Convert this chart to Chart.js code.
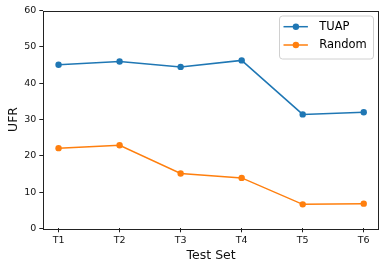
<!DOCTYPE html>
<html>
<head>
<meta charset="utf-8">
<script src="https://cdn.jsdelivr.net/npm/chart.js@4/dist/chart.umd.min.js"></script>
<style>
html,body{margin:0;padding:0;background:#fff;}
#wrap{width:385px;height:269px;position:relative;}
</style>
</head>
<body>
<div id="wrap"><canvas id="c" width="385" height="269"></canvas></div>
<script>
const categories = ["T1", "T2", "T3", "T4", "T5", "T6"];
const tuapValues = [45.1, 46.0, 44.5, 46.3, 31.4, 32.0];
const randomValues = [22.1, 22.9, 15.1, 13.9, 6.6, 6.8];
const yTicks = [0, 10, 20, 30, 40, 50, 60];
const seriesNames = ["TUAP", "Random"];
const seriesColors = ["#1f77b4", "#ff7f0e"];

const FONT = "'DejaVu Sans', sans-serif";

const toPoints = arr => arr.map((v, i) => ({x: i, y: v}));

const framePlugin = {
  id: 'frame',
  afterDraw(chart) {
    const {ctx, chartArea: a} = chart;
    ctx.save();
    ctx.strokeStyle = '#222';
    ctx.lineWidth = 1;
    ctx.strokeRect(Math.round(a.left) + 0.5, Math.round(a.top) + 0.5,
                   Math.round(a.right - a.left) - 1, Math.round(a.bottom - a.top));
    ctx.restore();
  }
};

const legendPlugin = {
  id: 'mplLegend',
  afterDraw(chart) {
    const ctx = chart.ctx;
    const a = chart.chartArea;
    const bx = a.right - 99.5, by = a.top + 5.3, bw = 94, bh = 43;
    ctx.save();
    ctx.beginPath();
    const r = 3;
    ctx.moveTo(bx + r, by);
    ctx.lineTo(bx + bw - r, by);
    ctx.quadraticCurveTo(bx + bw, by, bx + bw, by + r);
    ctx.lineTo(bx + bw, by + bh - r);
    ctx.quadraticCurveTo(bx + bw, by + bh, bx + bw - r, by + bh);
    ctx.lineTo(bx + r, by + bh);
    ctx.quadraticCurveTo(bx, by + bh, bx, by + bh - r);
    ctx.lineTo(bx, by + r);
    ctx.quadraticCurveTo(bx, by, bx + r, by);
    ctx.closePath();
    ctx.fillStyle = 'rgba(255,255,255,0.8)';
    ctx.fill();
    ctx.strokeStyle = '#d0d0d0';
    ctx.lineWidth = 1;
    ctx.stroke();
    chart.data.datasets.forEach((ds, i) => {
      const y = by + 10.7 + i * 18.3;
      ctx.strokeStyle = ds.borderColor;
      ctx.lineWidth = 1.5;
      ctx.beginPath();
      ctx.moveTo(bx + 4, y);
      ctx.lineTo(bx + 28.4, y);
      ctx.stroke();
      ctx.fillStyle = ds.borderColor;
      ctx.beginPath();
      ctx.arc(bx + 16.4, y, 3.2, 0, Math.PI * 2);
      ctx.fill();
      ctx.fillStyle = '#000';
      ctx.font = '11.5px ' + FONT;
      ctx.textBaseline = 'middle';
      ctx.textAlign = 'left';
      ctx.fillText(ds.label, bx + 39.7, y + 0.5);
    });
    ctx.restore();
  }
};

new Chart(document.getElementById('c'), {
  type: 'line',
  data: {
    datasets: [
      {label: seriesNames[0], data: toPoints(tuapValues), borderColor: seriesColors[0], backgroundColor: seriesColors[0]},
      {label: seriesNames[1], data: toPoints(randomValues), borderColor: seriesColors[1], backgroundColor: seriesColors[1]}
    ]
  },
  options: {
    responsive: false,
    animation: false,
    devicePixelRatio: 1,
    layout: {padding: {left: 0, top: 10.7, right: 6, bottom: 0}},
    elements: {
      line: {borderWidth: 1.5, tension: 0},
      point: {radius: 3.2, borderWidth: 0, hoverRadius: 3.2}
    },
    plugins: {legend: {display: false}, tooltip: {enabled: false}},
    scales: {
      x: {
        type: 'linear',
        min: -0.25,
        max: 5.25,
        afterBuildTicks: s => { s.ticks = categories.map((c, i) => ({value: i})); },
        afterFit: s => { s.height = 40.7; },
        ticks: {
          autoSkip: false,
          maxRotation: 0,
          padding: 3,
          color: '#111',
          font: {family: FONT, size: 9.5},
          callback: v => categories[v]
        },
        grid: {drawOnChartArea: false, tickLength: 4, tickColor: '#222', tickWidth: 1},
        border: {display: false},
        title: {display: true, text: 'Test Set', color: '#111', font: {family: FONT, size: 12.5}, padding: {top: 0, bottom: 5.5}}
      },
      y: {
        min: 0,
        max: 60,
        afterBuildTicks: s => { s.ticks = yTicks.map(v => ({value: v})); },
        afterFit: s => { s.width = 43.3; },
        ticks: {
          padding: 3,
          color: '#111',
          font: {family: FONT, size: 9.5},
          callback: v => String(v)
        },
        grid: {drawOnChartArea: false, tickLength: 4, tickColor: '#222', tickWidth: 1},
        border: {display: false},
        title: {display: true, text: 'UFR', color: '#111', font: {family: FONT, size: 12.5}, padding: {top: 6.5, bottom: 0}}
      }
    }
  },
  plugins: [framePlugin, legendPlugin]
});
</script>
</body>
</html>
